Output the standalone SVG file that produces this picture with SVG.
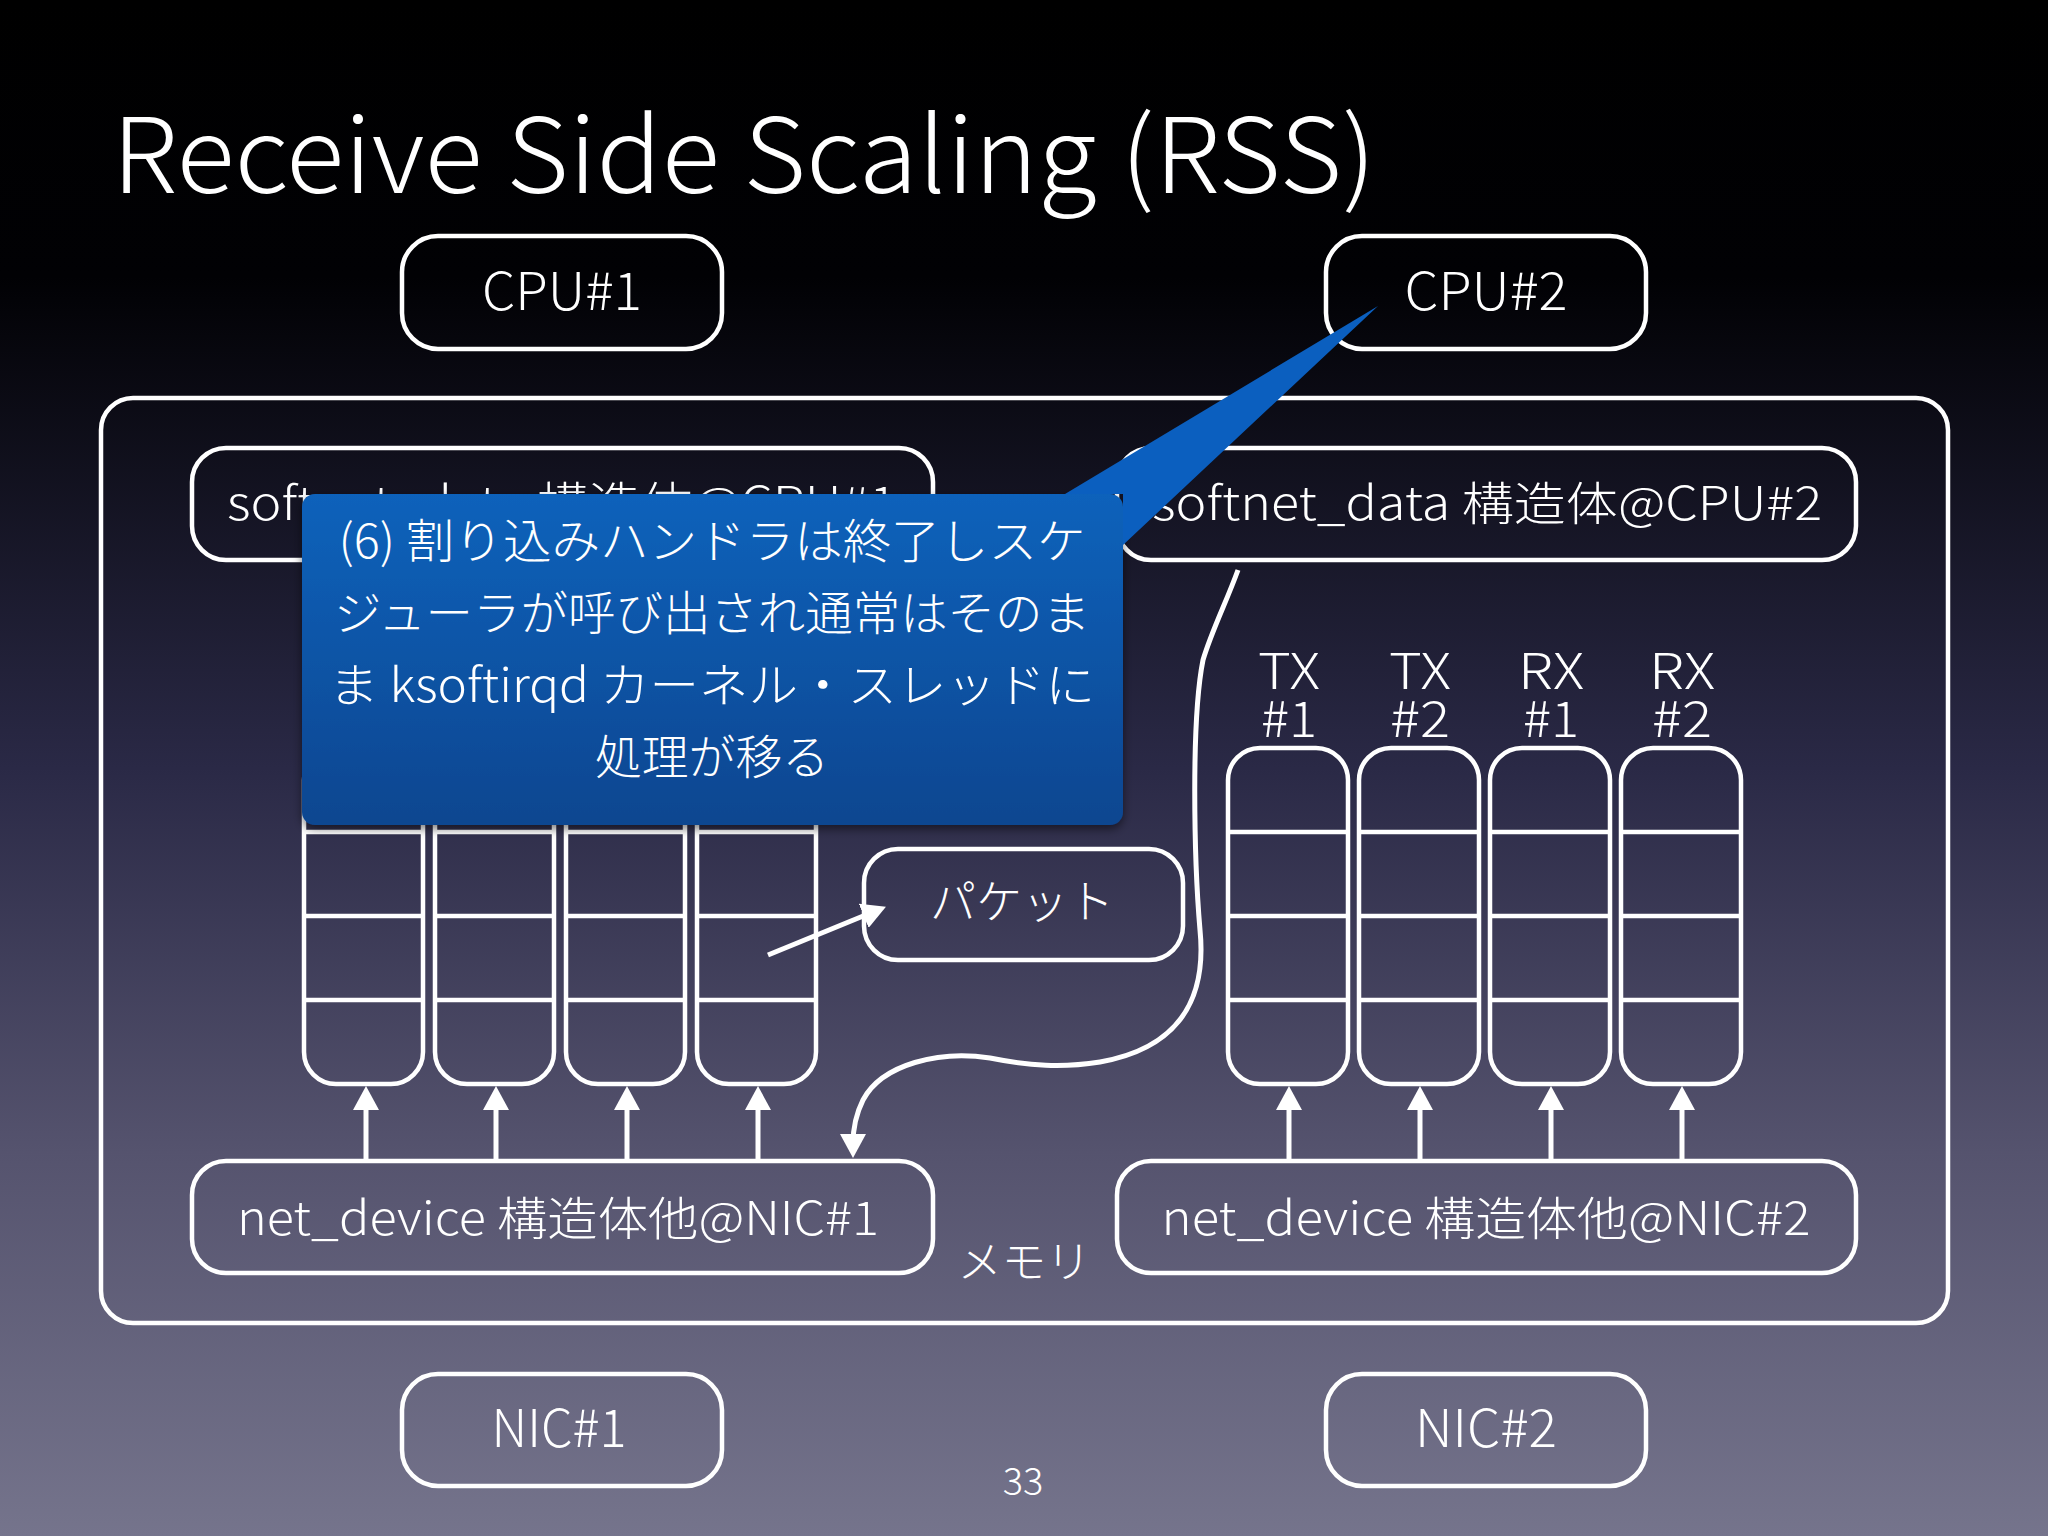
<svg xmlns="http://www.w3.org/2000/svg" width="2048" height="1536" viewBox="0 0 2048 1536">
  <defs>
    <linearGradient id="bg" x1="0" y1="0" x2="0" y2="1">
      <stop offset="0" stop-color="#000000"/>
      <stop offset="0.18" stop-color="#010104"/>
      <stop offset="0.5" stop-color="#2a2946"/>
      <stop offset="0.75" stop-color="#55536e"/>
      <stop offset="1" stop-color="#75748c"/>
    </linearGradient>
    <linearGradient id="callout" x1="0" y1="0" x2="0" y2="1">
      <stop offset="0" stop-color="#1062bb"/>
      <stop offset="1" stop-color="#0a4690"/>
    </linearGradient>
    <filter id="shadow" x="-10%" y="-10%" width="120%" height="130%">
      <feDropShadow dx="0" dy="4" stdDeviation="5" flood-color="#000" flood-opacity="0.5"/>
    </filter>
    <marker id="arrow" viewBox="0 0 24 26" refX="10" refY="13" markerWidth="24" markerHeight="26" markerUnits="userSpaceOnUse" orient="auto">
      <path d="M0,0 L24,13 L0,26 z" fill="#ffffff"/>
    </marker>
    <style>
      .box { fill: none; stroke: #ffffff; stroke-width: 4.5; }
      .ln { stroke: #ffffff; stroke-width: 4.5; fill: none; }
      .conn { stroke: #ffffff; stroke-width: 5; fill: none; }
      .t { fill: #ffffff; font-family: "Noto Sans CJK JP", "Noto Sans", sans-serif; font-weight: 300; }
      .c { text-anchor: middle; }
    </style>
  </defs>

  <rect x="0" y="0" width="2048" height="1536" fill="url(#bg)"/>

  <text class="t" x="112" y="193" font-size="104" textLength="1264" lengthAdjust="spacingAndGlyphs">Receive Side Scaling (RSS)</text>

  <g id="memory">
    <rect class="box" x="101" y="398" width="1847" height="925" rx="32"/>
    <text class="t c" x="1024" y="1278" font-size="44" textLength="133" lengthAdjust="spacingAndGlyphs">メモリ</text>
  </g>

  <g id="cpu1">
    <rect class="box" x="402" y="236" width="320" height="113" rx="36"/>
    <text class="t c" x="562" y="310" font-size="52" textLength="160" lengthAdjust="spacingAndGlyphs">CPU#1</text>
  </g>
  <g id="cpu2">
    <rect class="box" x="1326" y="236" width="320" height="113" rx="36"/>
    <text class="t c" x="1486" y="310" font-size="52" textLength="163" lengthAdjust="spacingAndGlyphs">CPU#2</text>
  </g>

  <g id="softnet1">
    <rect class="box" x="192" y="448" width="741" height="112" rx="34"/>
    <text class="t c" x="562" y="520" font-size="46" textLength="670" lengthAdjust="spacingAndGlyphs">softnet_data 構造体@CPU#1</text>
  </g>
  <g id="softnet2">
    <rect class="box" x="1117" y="448" width="739" height="112" rx="34"/>
    <text class="t c" x="1487" y="520" font-size="46" textLength="670" lengthAdjust="spacingAndGlyphs">softnet_data 構造体@CPU#2</text>
  </g>

  <g id="queues1">
    <rect class="box" x="304" y="748" width="119" height="336" rx="32"/>
    <rect class="box" x="435" y="748" width="119" height="336" rx="32"/>
    <rect class="box" x="566" y="748" width="119" height="336" rx="32"/>
    <rect class="box" x="697" y="748" width="119" height="336" rx="32"/>
    <path class="ln" d="M304,832 H423 M435,832 H554 M566,832 H685 M697,832 H816 M304,916 H423 M435,916 H554 M566,916 H685 M697,916 H816 M304,1000 H423 M435,1000 H554 M566,1000 H685 M697,1000 H816"/>
  </g>

  <g id="queues2">
    <rect class="box" x="1228" y="748" width="120" height="336" rx="32"/>
    <rect class="box" x="1359" y="748" width="120" height="336" rx="32"/>
    <rect class="box" x="1490" y="748" width="120" height="336" rx="32"/>
    <rect class="box" x="1621" y="748" width="120" height="336" rx="32"/>
    <path class="ln" d="M1228,832 H1348 M1359,832 H1479 M1490,832 H1610 M1621,832 H1741 M1228,916 H1348 M1359,916 H1479 M1490,916 H1610 M1621,916 H1741 M1228,1000 H1348 M1359,1000 H1479 M1490,1000 H1610 M1621,1000 H1741"/>
    <text class="t c" x="1289" y="689" font-size="50" textLength="62" lengthAdjust="spacingAndGlyphs">TX</text>
    <text class="t c" x="1289" y="737" font-size="50" textLength="56" lengthAdjust="spacingAndGlyphs">#1</text>
    <text class="t c" x="1420" y="689" font-size="50" textLength="62" lengthAdjust="spacingAndGlyphs">TX</text>
    <text class="t c" x="1420" y="737" font-size="50" textLength="60" lengthAdjust="spacingAndGlyphs">#2</text>
    <text class="t c" x="1551" y="689" font-size="50" textLength="66" lengthAdjust="spacingAndGlyphs">RX</text>
    <text class="t c" x="1551" y="737" font-size="50" textLength="56" lengthAdjust="spacingAndGlyphs">#1</text>
    <text class="t c" x="1682" y="689" font-size="50" textLength="66" lengthAdjust="spacingAndGlyphs">RX</text>
    <text class="t c" x="1682" y="737" font-size="50" textLength="60" lengthAdjust="spacingAndGlyphs">#2</text>
  </g>

  <g id="packet">
    <rect class="box" x="864" y="849" width="319" height="111" rx="34"/>
    <text class="t c" x="1022" y="918" font-size="46" textLength="184" lengthAdjust="spacingAndGlyphs">パケット</text>
  </g>

  <g id="netdev1">
    <rect class="box" x="192" y="1161" width="741" height="112" rx="34"/>
    <text class="t c" x="558" y="1235" font-size="46" textLength="642" lengthAdjust="spacingAndGlyphs">net_device 構造体他@NIC#1</text>
  </g>
  <g id="netdev2">
    <rect class="box" x="1117" y="1161" width="739" height="112" rx="34"/>
    <text class="t c" x="1486" y="1235" font-size="46" textLength="649" lengthAdjust="spacingAndGlyphs">net_device 構造体他@NIC#2</text>
  </g>

  <g id="nic1">
    <rect class="box" x="402" y="1374" width="320" height="112" rx="36"/>
    <text class="t c" x="559" y="1447" font-size="52" textLength="135" lengthAdjust="spacingAndGlyphs">NIC#1</text>
  </g>
  <g id="nic2">
    <rect class="box" x="1326" y="1374" width="320" height="112" rx="36"/>
    <text class="t c" x="1486" y="1447" font-size="52" textLength="142" lengthAdjust="spacingAndGlyphs">NIC#2</text>
  </g>

  <text class="t c" x="1023" y="1495" font-size="38">33</text>

  <g id="connectors">
    <line class="conn" x1="366" y1="1161" x2="366" y2="1100" marker-end="url(#arrow)"/>
    <line class="conn" x1="496" y1="1161" x2="496" y2="1100" marker-end="url(#arrow)"/>
    <line class="conn" x1="627" y1="1161" x2="627" y2="1100" marker-end="url(#arrow)"/>
    <line class="conn" x1="758" y1="1161" x2="758" y2="1100" marker-end="url(#arrow)"/>
    <line class="conn" x1="1289" y1="1161" x2="1289" y2="1100" marker-end="url(#arrow)"/>
    <line class="conn" x1="1420" y1="1161" x2="1420" y2="1100" marker-end="url(#arrow)"/>
    <line class="conn" x1="1551" y1="1161" x2="1551" y2="1100" marker-end="url(#arrow)"/>
    <line class="conn" x1="1682" y1="1161" x2="1682" y2="1100" marker-end="url(#arrow)"/>
    <line class="conn" x1="768" y1="955" x2="873" y2="912" marker-end="url(#arrow)"/>
    <path class="conn" d="M1238,570 C1226,603 1212,630 1203,660 C1191,720 1194,860 1200,930 C1208,1010 1168,1050 1100,1062 C1062,1068 1030,1066 990,1058 C940,1050 882,1064 863,1100 C856,1114 853,1128 853,1144" marker-end="url(#arrow)"/>
  </g>

  <g id="callout">
    <g filter="url(#shadow)">
      <rect x="302" y="494" width="821" height="331" rx="13" fill="url(#callout)"/>
    </g>
    <polygon points="1065,494 1378,306 1123,545 1123,494" fill="#0b5fbf"/>
    <text class="t c" x="712" y="558" font-size="47" textLength="747" lengthAdjust="spacingAndGlyphs">(6) 割り込みハンドラは終了しスケ</text>
    <text class="t c" x="712" y="630" font-size="47" textLength="756" lengthAdjust="spacingAndGlyphs">ジューラが呼び出され通常はそのま</text>
    <text class="t c" x="712" y="702" font-size="47" textLength="766" lengthAdjust="spacingAndGlyphs">ま ksoftirqd カーネル・スレッドに</text>
    <text class="t c" x="712" y="774" font-size="47" textLength="234" lengthAdjust="spacingAndGlyphs">処理が移る</text>
  </g>
</svg>
